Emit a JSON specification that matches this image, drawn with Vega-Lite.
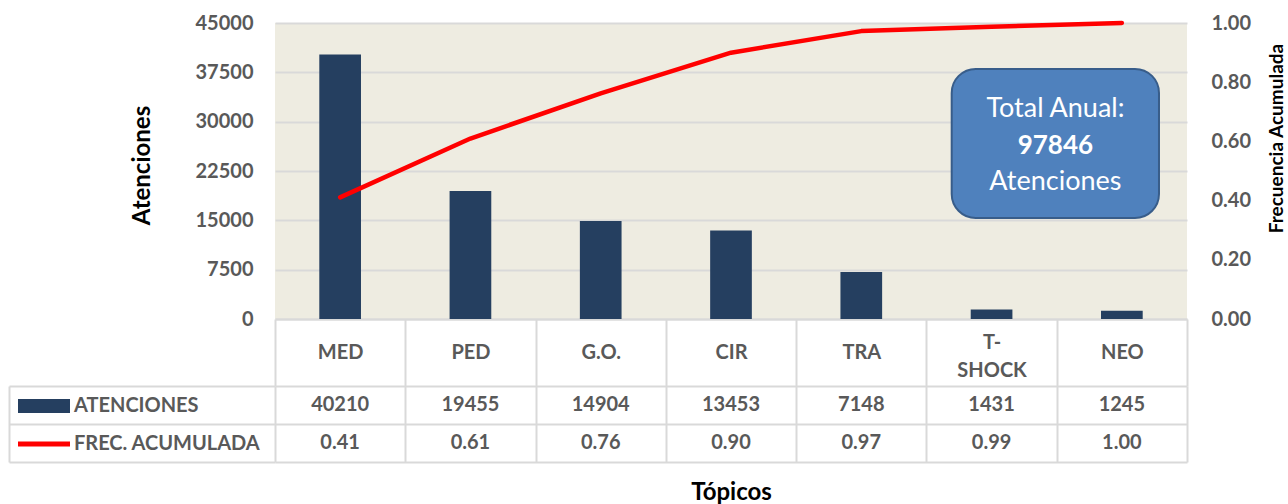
{
  "$schema": "https://vega.github.io/schema/vega-lite/v6.json",
  "autosize": {"type": "pad"},
  "padding": {"left": 8, "top": 13, "right": 0, "bottom": 0},
  "background": "white",
  "config": {"font": "Lato", "view": {"stroke": null}},
  "datasets": {
    "topics": [
      {"topico": "MED", "atenciones": 40210, "frec": 0.41095},
      {"topico": "PED", "atenciones": 19455, "frec": 0.60978},
      {"topico": "G.O.", "atenciones": 14904, "frec": 0.76211},
      {"topico": "CIR", "atenciones": 13453, "frec": 0.89960},
      {"topico": "TRA", "atenciones": 7148, "frec": 0.97265},
      {"topico": "T-SHOCK", "atenciones": 1431, "frec": 0.98728},
      {"topico": "NEO", "atenciones": 1245, "frec": 1.0}
    ],
    "box": [{"x1": 5.194, "x2": 6.785, "y1": 0.341, "y2": 0.845}],
    "boxText": [
      {"texto": "Total Anual:", "orden": 1, "x": 5.99, "y": 0.7095},
      {"texto": "97846", "orden": 2, "x": 5.99, "y": 0.5845},
      {"texto": "Atenciones", "orden": 3, "x": 5.99, "y": 0.4628}
    ]
  },
  "spacing": 67,
  "bounds": "flush",
  "resolve": {
    "scale": {"color": "independent", "stroke": "independent"},
    "legend": {"color": "independent", "stroke": "independent"}
  },
  "vconcat": [
    {
      "width": 912,
      "height": 296,
      "view": {"fill": "#EEECE1", "stroke": null},
      "layer": [
        {
          "data": {"name": "topics"},
          "mark": {"type": "bar", "width": {"band": 0.32}},
          "encoding": {
            "x": {
              "field": "topico", "type": "nominal", "sort": null,
              "scale": {"type": "band", "paddingInner": 0, "paddingOuter": 0},
              "axis": {
                "title": null, "labelAngle": 0, "labelColor": "#595959", "labelFontSize": 20,
                "labelFontWeight": "bold", "labelFont": "Lato", "tickBand": "extent", "tickSize": 67,
                "tickColor": "#D9D9D9", "tickWidth": 2, "domainColor": "#D9D9D9", "domainWidth": 2,
                "labelPadding": -34, "labelLineHeight": 28,
                "labelBaseline": {"condition": {"test": "datum.value === 'T-SHOCK'", "value": "bottom"}, "value": "middle"},
                "labelExpr": "datum.value === 'T-SHOCK' ? ['T-', 'SHOCK'] : datum.value"
              }
            },
            "y": {
              "field": "atenciones", "type": "quantitative",
              "scale": {"domain": [0, 45000], "nice": false},
              "axis": {
                "values": [0, 7500, 15000, 22500, 30000, 37500, 45000], "format": "d",
                "grid": true, "gridColor": "#D9D9D9", "gridWidth": 2, "domain": false, "ticks": false,
                "labelPadding": 22, "labelColor": "#595959", "labelFontSize": 20, "labelFontWeight": "bold",
                "title": "Atenciones", "titleFontSize": 24, "titleFontWeight": "bold", "titleColor": "#000000",
                "titleAngle": 270, "titleX": -133, "titleY": 142, "titleAlign": "center", "titleBaseline": "middle"
              }
            },
            "color": {
              "datum": "ATENCIONES", "type": "nominal",
              "scale": {"domain": ["ATENCIONES"], "range": ["#253F60"]},
              "legend": {
                "orient": "none", "legendX": -241, "legendY": 373, "title": null, "padding": 0,
                "labelFontSize": 20, "labelFontWeight": "bold", "labelColor": "#595959", "labelOffset": 20,
                "labelBaseline": "middle", "labelLimit": 400,
                "symbolType": "M-5.2,-1.4H5.2V1.4H-5.2Z", "symbolSize": 100, "symbolStrokeWidth": 0
              }
            }
          }
        },
        {
          "data": {"name": "topics"},
          "mark": {"type": "line", "strokeWidth": 4.5, "strokeCap": "round", "strokeJoin": "round"},
          "encoding": {
            "x": {"field": "topico", "type": "nominal", "sort": null, "scale": {"type": "point", "padding": 0.5}, "axis": null},
            "y": {
              "field": "frec", "type": "quantitative",
              "scale": {"domain": [0, 1], "nice": false},
              "axis": {
                "orient": "right", "values": [0, 0.2, 0.4, 0.6, 0.8, 1], "format": ".2f",
                "grid": false, "domain": false, "ticks": false, "labelPadding": 24,
                "labelColor": "#595959", "labelFontSize": 20, "labelFontWeight": "bold",
                "title": "Frecuencia Acumulada", "titleFontSize": 19, "titleFontWeight": "bold", "titleColor": "#000000",
                "titleAngle": 270, "titleX": 89, "titleY": 115, "titleAlign": "center", "titleBaseline": "middle"
              }
            },
            "stroke": {
              "datum": "FREC. ACUMULADA", "type": "nominal",
              "scale": {"domain": ["FREC. ACUMULADA"], "range": ["#FF0000"]},
              "legend": {
                "orient": "none", "legendX": -241, "legendY": 411, "title": null, "padding": 0,
                "labelFontSize": 20, "labelFontWeight": "bold", "labelColor": "#595959", "labelOffset": 20,
                "labelBaseline": "middle", "labelLimit": 400,
                "symbolType": "M-5.2,0H5.2", "symbolSize": 100, "symbolStrokeWidth": 5
              }
            }
          }
        },
        {
          "data": {"name": "box"},
          "mark": {"type": "rect", "cornerRadius": 24, "fill": "#4F81BD", "stroke": "#385D8A", "strokeWidth": 2},
          "encoding": {
            "x": {"field": "x1", "type": "quantitative", "scale": {"domain": [0, 7], "nice": false, "zero": false}, "axis": null},
            "x2": {"field": "x2"},
            "y": {"field": "y1", "type": "quantitative", "scale": {"domain": [0, 1], "nice": false}, "axis": null},
            "y2": {"field": "y2"}
          }
        },
        {
          "data": {"name": "boxText"},
          "transform": [{"filter": "datum.orden !== 2"}],
          "mark": {"type": "text", "color": "#FFFFFF", "fontSize": 27, "font": "Lato", "align": "center", "baseline": "middle"},
          "encoding": {
            "x": {"field": "x", "type": "quantitative", "scale": {"domain": [0, 7], "nice": false, "zero": false}, "axis": null},
            "y": {"field": "y", "type": "quantitative", "scale": {"domain": [0, 1], "nice": false}, "axis": null},
            "text": {"field": "texto"}
          }
        },
        {
          "data": {"name": "boxText"},
          "transform": [{"filter": "datum.orden === 2"}],
          "mark": {"type": "text", "color": "#FFFFFF", "fontSize": 26, "fontWeight": "bold", "font": "Lato", "align": "center", "baseline": "middle"},
          "encoding": {
            "x": {"field": "x", "type": "quantitative", "scale": {"domain": [0, 7], "nice": false, "zero": false}, "axis": null},
            "y": {"field": "y", "type": "quantitative", "scale": {"domain": [0, 1], "nice": false}, "axis": null},
            "text": {"field": "texto"}
          }
        }
      ],
      "resolve": {"scale": {"x": "independent", "y": "independent"}}
    },
    {
      "width": 912,
      "height": 76,
      "data": {"name": "topics"},
      "encoding": {
        "x": {
          "field": "topico", "type": "nominal", "sort": null,
          "scale": {"type": "band", "paddingInner": 0, "paddingOuter": 0},
          "axis": {
            "labels": false, "ticks": false, "domain": false, "grid": true, "tickBand": "extent",
            "gridColor": "#D9D9D9", "gridWidth": 2,
            "title": "Tópicos", "titleFontSize": 24, "titleFontWeight": "bold", "titleColor": "#000000",
            "titleY": 30, "titleBaseline": "middle"
          }
        }
      },
      "layer": [
        {
          "mark": {"type": "text", "fontSize": 20, "fontWeight": "bold", "color": "#595959", "baseline": "middle"},
          "encoding": {
            "y": {
              "datum": "ATENCIONES", "type": "nominal",
              "scale": {"type": "band", "domain": ["ATENCIONES", "FREC. ACUMULADA"], "paddingInner": 0, "paddingOuter": 0},
              "axis": {
                "orient": "left", "offset": 266, "tickSize": -266, "tickBand": "extent",
                "tickColor": "#D9D9D9", "tickWidth": 2, "domainColor": "#D9D9D9", "domainWidth": 2,
                "labels": false, "grid": true, "gridColor": "#D9D9D9", "gridWidth": 2, "title": null
              }
            },
            "text": {"field": "atenciones", "type": "quantitative", "format": "d"}
          }
        },
        {
          "mark": {"type": "text", "fontSize": 20, "fontWeight": "bold", "color": "#595959", "baseline": "middle"},
          "encoding": {
            "y": {"datum": "FREC. ACUMULADA", "type": "nominal"},
            "text": {"field": "frec", "type": "quantitative", "format": ".2f"}
          }
        }
      ]
    }
  ]
}
